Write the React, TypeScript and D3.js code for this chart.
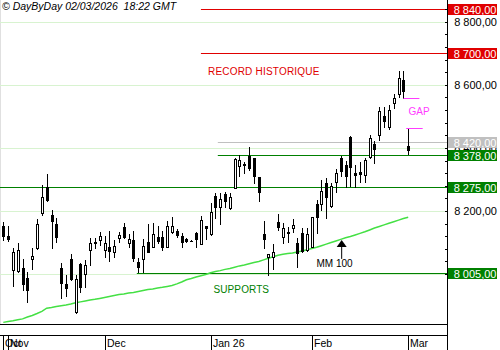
import React from "react";
import * as d3 from "d3";

// ---- data ----
const opens = [8152,8122,8013,8010,8018,7987,8047,8082,8193,8275,8187,8158,8018,7969,8047,7881,8032,8000,8075,8103,8107,8076,8087,8071,8115,8148,8100,8108,8037,8047,8101,8087,8117,8117,8087,8133,8137,8121,8111,8106,8130,8095,8152,8127,8247,8214,8254,8210,8272,8343,8349,8374,8367,8307,8126,8055,8053,8166,8117,8134,8145,8098,8130,8077,8085,8222,8222,8290,8216,8293,8367,8346,8435,8319,8324,8314,8370,8412,8441,8502,8467,8541,8570,8615,8407];
const highs = [8166,8152,8082,8098,8047,8008,8082,8175,8282,8316,8203,8177,8034,7997,8063,7997,8034,8045,8113,8115,8134,8121,8137,8108,8134,8161,8126,8137,8050,8110,8159,8163,8152,8137,8169,8180,8142,8130,8116,8107,8134,8184,8152,8225,8258,8256,8261,8258,8367,8377,8356,8402,8367,8309,8168,8063,8095,8190,8161,8148,8175,8113,8145,8145,8182,8235,8298,8304,8288,8332,8374,8359,8438,8346,8356,8367,8441,8423,8531,8531,8536,8570,8644,8644,8462];
const lows = [8108,8106,7963,8006,7950,7911,8016,8078,8187,8232,8084,8103,7925,7931,7981,7878,7944,7960,8029,8082,8092,8055,8042,8053,8101,8115,8085,8042,8006,8006,8069,8087,8098,8076,8087,8130,8117,8087,8102,8104,8087,8095,8110,8124,8177,8158,8214,8205,8272,8311,8319,8330,8290,8233,8082,7997,8015,8140,8098,8103,8134,8021,8071,8073,8085,8129,8203,8177,8214,8261,8311,8277,8279,8277,8293,8293,8367,8351,8425,8467,8460,8527,8562,8557,8381];
const closes = [8122,8111,8069,8075,7968,7950,8058,8159,8244,8234,8169,8119,7971,7955,7984,7984,7960,8029,8098,8100,8122,8098,8073,8089,8124,8117,8111,8050,8022,8089,8069,8126,8106,8087,8152,8152,8123,8103,8104,8105,8111,8171,8147,8198,8212,8237,8232,8243,8364,8362,8347,8335,8312,8259,8111,8063,8069,8150,8145,8129,8155,8068,8074,8127,8182,8180,8263,8243,8280,8321,8328,8311,8340,8314,8317,8362,8430,8396,8517,8485,8520,8559,8621,8580,8393];
const ma100 = [7847,7850,7852,7855,7858,7864,7869,7875,7882,7892,7894,7897,7900,7902,7905,7909,7912,7915,7918,7920,7923,7926,7929,7932,7935,7937,7940,7942,7945,7948,7951,7953,7956,7958,7961,7964,7969,7975,7982,7986,7991,7995,7999,8004,8008,8011,8015,8018,8022,8026,8029,8033,8037,8040,8045,8050,8055,8060,8063,8065,8067,8070,8073,8077,8081,8085,8090,8095,8100,8105,8110,8115,8119,8124,8129,8134,8140,8146,8151,8156,8161,8166,8171,8176,8180];

const monthTickIndex = [0, 1, 21, 43, 64, 84];
const monthLabels = ["Oct", "Nov", "Dec", "Jan 26", "Feb", "Mar"];

const gridValues = [8000, 8200, 8400, 8600, 8800];

const levelValues = [8840, 8700, 8420, 8378, 8275, 8005];
const levelKinds = ["red", "red", "gray", "green", "green", "green"];
const levelStartIndex = [41, 41, 44.5, 44.5, -1, 27.7];

const headerText = "© DayByDay 02/03/2026  18:22 GMT";

const FONT = "'Liberation Sans', Arial, sans-serif";
const COLORS: Record<string, string> = { red: "#e00000", gray: "#c0c0c0", green: "#008000" };

const locale = d3.formatLocale({ decimal: ",", thousands: " ", grouping: [3], currency: ["", ""] });
const fmt = locale.format(",.2f");

export default function App() {
  const W = 500, H = 350;
  const plotRight = 447;
  const x = d3.scaleLinear().domain([0, 84]).range([3.3, 408.2]);
  const y = d3.scaleLinear().domain([8800, 8000]).range([21.7, 274.1]);
  const cy = (v: number) => Math.round(y(v)) + 0.5;
  const cx = (i: number) => Math.round(x(i)) + 0.5;

  const maLine = d3.line<number>().x((_, i) => x(i)).y((d) => y(d))(ma100) || "";
  const ticks = d3.range(8000, 8881, 40);

  const arrowIdx = 70.2;
  const ax = x(arrowIdx);
  const ay = y(ma100[70]) + 0.5;

  return (
    <svg width={W} height={H} style={{ position: "absolute", left: 0, top: 0, background: "#fff" }} fontFamily={FONT}>
      <rect x={0} y={0} width={W} height={H} fill="#fff" />
      {/* left border */}
      <line x1={0.5} x2={0.5} y1={0} y2={324} stroke="#e0e0e0" />
      {/* gridlines */}
      {gridValues.map((v) => (
        <line key={"g" + v} x1={0} x2={plotRight} y1={cy(v)} y2={cy(v)} stroke="#d8f3d0" />
      ))}
      {/* level lines */}
      {levelValues.map((v, k) => (
        <line key={"l" + v} x1={levelStartIndex[k] < 0 ? 0 : x(levelStartIndex[k])} x2={plotRight} y1={cy(v)} y2={cy(v)} stroke={COLORS[levelKinds[k]]} />
      ))}
      {/* MA 100 */}
      <path d={maLine} fill="none" stroke="#44e044" strokeWidth={1.5} />
      {/* candles */}
      <g shapeRendering="crispEdges">
        {opens.map((o, i) => {
          const c = closes[i];
          const px = cx(i);
          const top = Math.round(y(Math.max(o, c)));
          const bot = Math.round(y(Math.min(o, c)));
          const bear = c < o;
          return (
            <g key={"c" + i}>
              <line x1={px} x2={px} y1={Math.round(y(highs[i]))} y2={Math.round(y(lows[i])) + 1} stroke="#000" />
              {bear ? (
                <rect x={px - 1.5} y={top} width={3} height={Math.max(1, bot - top + 1)} fill="#000" />
              ) : (
                <rect x={px - 1} y={top + 0.5} width={2} height={Math.max(0, bot - top)} fill="#fff" stroke="#000" />
              )}
            </g>
          );
        })}
      </g>
      {/* GAP */}
      <line x1={x(83)} x2={x(83) + 16} y1={cy(lows[83])} y2={cy(lows[83])} stroke="#ff3cff" />
      <line x1={x(84) - 2} x2={x(84) + 14.5} y1={cy(highs[84])} y2={cy(highs[84])} stroke="#ff3cff" />
      <text x={408.5} y={115} fontSize={10} fill="#ff3cff">GAP</text>
      {/* annotations */}
      <text x={208} y={75} fontSize={10} fill="#e00000" letterSpacing={0.2}>RECORD HISTORIQUE</text>
      <text x={213.5} y={293} fontSize={10} fill="#008000" letterSpacing={0.1}>SUPPORTS</text>
      <path d={`M${ax},${ay} L${ax - 5},${ay + 7} L${ax + 5},${ay + 7} Z`} fill="#000" />
      <line x1={ax} x2={ax} y1={ay + 6} y2={ay + 19} stroke="#000" />
      <text x={316.5} y={266.7} fontSize={10} fill="#000">MM 100</text>
      {/* header */}
      <text x={2} y={10} fontSize={10.5} fontStyle="italic" fill="#000" style={{ whiteSpace: "pre" }}>{headerText}</text>
      {/* right axis */}
      <line x1={plotRight + 0.5} x2={plotRight + 0.5} y1={0} y2={H} stroke="#000" />
      {ticks.map((t) => (
        <line key={"t" + t} x1={plotRight - 2} x2={plotRight} y1={cy(t)} y2={cy(t)} stroke="#000" />
      ))}
      {gridValues.map((v) => (
        <text key={"yl" + v} x={497} y={y(v) + 4} fontSize={11} textAnchor="end" fill="#000">{fmt(v)}</text>
      ))}
      {levelValues.map((v, k) => (
        <g key={"b" + v}>
          <rect x={448} y={Math.round(y(v)) - 5} width={49} height={11} fill={COLORS[levelKinds[k]]} />
          <text x={496.5} y={Math.round(y(v)) + 4.5} fontSize={11} textAnchor="end" fill="#fff">{fmt(v)}</text>
        </g>
      ))}
      {/* bottom axis */}
      <line x1={0} x2={plotRight} y1={324.5} y2={324.5} stroke="#000" />
      <line x1={0} x2={plotRight} y1={335.5} y2={335.5} stroke="#000" />
      {monthTickIndex.map((idx, k) => (
        <g key={"m" + k}>
          <line x1={cx(idx)} x2={cx(idx)} y1={335} y2={H} stroke="#000" />
          <text x={cx(idx) + 1.5} y={347} fontSize={10.5} fill="#000">{monthLabels[k]}</text>
        </g>
      ))}
    </svg>
  );
}
